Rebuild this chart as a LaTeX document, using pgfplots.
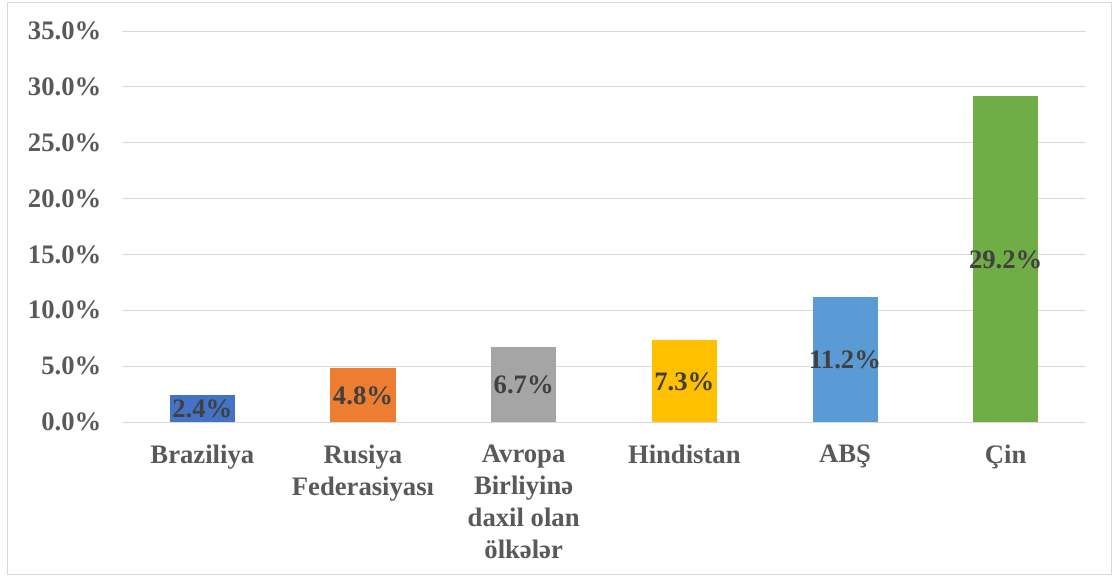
\documentclass[border=0pt]{standalone}
\usepackage{pgfplots}
\pgfplotsset{compat=1.18}
\usepackage{fontspec}
\setmainfont{Liberation Serif}
\definecolor{c1}{HTML}{4472C4}
\definecolor{c2}{HTML}{ED7D31}
\definecolor{c3}{HTML}{A5A5A5}
\definecolor{c4}{HTML}{FFC000}
\definecolor{c5}{HTML}{5B9BD5}
\definecolor{c6}{HTML}{70AD47}
\definecolor{gridc}{HTML}{D9D9D9}
\definecolor{tickc}{HTML}{595959}
\definecolor{labc}{HTML}{404040}
\begin{document}
\begin{tikzpicture}
\useasboundingbox (-91.5pt,-115.5pt) rectangle (745.5pt,316.5pt);
\draw[gridc, line width=0.75pt] (-85.5pt,-114pt) rectangle (741.75pt,315pt);
\begin{axis}[
  at={(0pt,0pt)}, anchor=south west,
  scale only axis, width=723pt, height=293.25pt,
  xmin=-0.5, xmax=5.5, ymin=0, ymax=35,
  ytick={0,5,...,35},
  xtick={0,1,2,3,4,5},
  xticklabels={Braziliya,{Rusiya\\Federasiyası},{Avropa\\Birliyinə\\daxil olan\\ölkələr},Hindistan,ABŞ,Çin},
  axis line style={draw=none},
  major tick length=0pt,
  ymajorgrids, grid style={gridc, line width=0.75pt},
  /pgf/number format/assume math mode=true,
  yticklabel={\pgfmathprintnumber[fixed,fixed zerofill,precision=1]{\tick}\%},
  ticklabel style={font=\fontsize{20}{24}\selectfont\bfseries, text=tickc},
  yticklabel style={xshift=-12pt},
  xticklabel style={align=center, inner sep=0pt, yshift=-17pt},
  clip=false,
  every axis plot/.append style={
    ybar, bar shift=0pt, bar width=48.75pt, draw=none,
    nodes near coords={\pgfmathprintnumber[fixed,fixed zerofill,precision=1,assume math mode=true]{\pgfplotspointmeta}\%},
    visualization depends on={rawy \as \rawy},
    every node near coord/.append style={font=\fontsize{20}{24}\selectfont\bfseries, text=labc, anchor=center, inner sep=0pt, yshift={-\rawy*4.189-0.5}},
  },
]
\addplot[fill=c1] coordinates {(0,2.4)};
\addplot[fill=c2] coordinates {(1,4.8)};
\addplot[fill=c3] coordinates {(2,6.7)};
\addplot[fill=c4] coordinates {(3,7.3)};
\addplot[fill=c5] coordinates {(4,11.2)};
\addplot[fill=c6] coordinates {(5,29.2)};
\end{axis}
\end{tikzpicture}
\end{document}
